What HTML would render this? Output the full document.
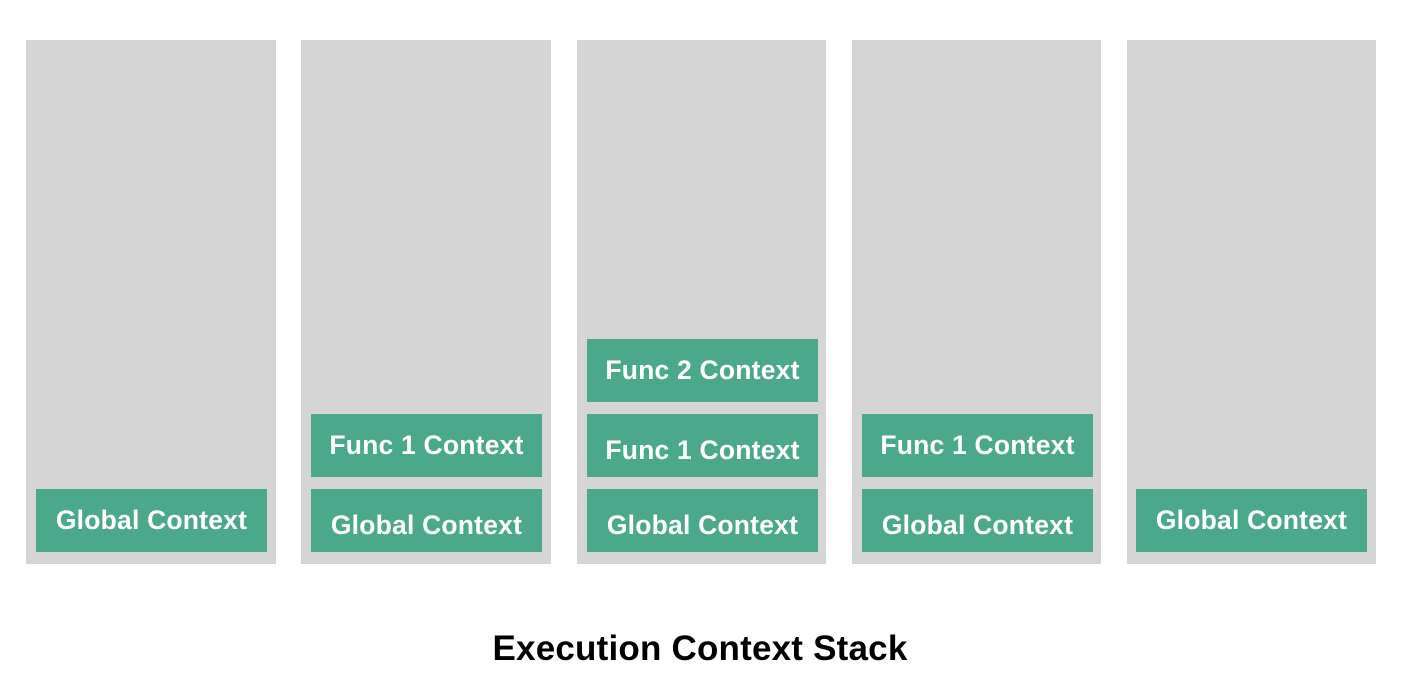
<!DOCTYPE html>
<html><head><style>
body{margin:0;width:1406px;height:690px;background:#fff;position:relative;font-family:"Liberation Sans",Arial,sans-serif;overflow:hidden}
.col{position:absolute;top:40px;width:250px;height:524px;background:#d5d5d5}
.b{position:absolute;width:231px;height:63px;background:#4ba88b}
.t{position:absolute;width:231px;text-align:center;color:#fff;font-weight:bold;font-size:26.5px;line-height:30px;letter-spacing:0.2px}
.title{position:absolute;left:0;width:1400px;top:629px;text-align:center;font-weight:bold;font-size:35px;line-height:40px;color:#000;letter-spacing:0.2px}
</style></head><body>
<div class="col" style="left:26px"></div>
<div class="col" style="left:301px"></div>
<div class="col" style="left:577px;width:249px"></div>
<div class="col" style="left:852px;width:249px"></div>
<div class="col" style="left:1127px;width:249px"></div>

<div class="b" style="left:36px;top:489px"></div><div class="t" style="left:36px;top:505px">Global Context</div>

<div class="b" style="left:311px;top:414px"></div><div class="t" style="left:311px;top:430px">Func 1 Context</div>
<div class="b" style="left:311px;top:489px"></div><div class="t" style="left:311px;top:510px">Global Context</div>

<div class="b" style="left:587px;top:339px"></div><div class="t" style="left:587px;top:355px">Func 2 Context</div>
<div class="b" style="left:587px;top:414px"></div><div class="t" style="left:587px;top:435px">Func 1 Context</div>
<div class="b" style="left:587px;top:489px"></div><div class="t" style="left:587px;top:510px">Global Context</div>

<div class="b" style="left:862px;top:414px"></div><div class="t" style="left:862px;top:430px">Func 1 Context</div>
<div class="b" style="left:862px;top:489px"></div><div class="t" style="left:862px;top:510px">Global Context</div>

<div class="b" style="left:1136px;top:489px"></div><div class="t" style="left:1136px;top:505px">Global Context</div>

<div class="title">Execution Context Stack</div>
</body></html>
